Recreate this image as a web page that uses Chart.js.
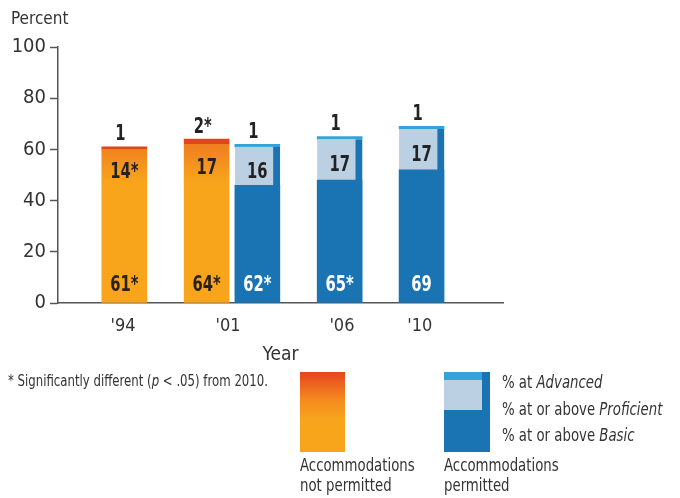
<!DOCTYPE html>
<html>
<head>
<meta charset="utf-8">
<script src="https://cdn.jsdelivr.net/npm/chart.js@4/dist/chart.umd.min.js"></script>
<style>
  html, body { margin: 0; padding: 0; background: #fff; }
  #wrap { width: 680px; height: 498px; }
</style>
</head>
<body>
<div id="wrap"><canvas id="naep"></canvas></div>
<script>
  // bars, left to right
  const years = ["'94", "'01", "'01", "'06", "'10"];
  const permitted = [false, false, true, true, true];
  const atBasic = [61, 64, 62, 65, 69];
  const atProficient = [14, 17, 16, 17, 17];
  const atAdvanced = [1, 2, 1, 1, 1];
  // * = significantly different from 2010
  const sigBasic = [true, true, true, true, false];
  const sigProficient = [true, false, false, false, false];
  const sigAdvanced = [false, true, false, false, false];

  // x axis tick labels
  const tickLabels = ["'94", "'01", "'06", "'10"];
  const tickPos = [1.46, 3.82, 6.38, 8.13];
  const barPos = [1.49, 3.34, 4.48, 6.33, 8.17];

  const NARROW = '"DejaVu Sans Condensed", "Liberation Sans", sans-serif';
  const ORANGE = '#F8A51B';
  const BLUE = '#1A74B4';
  const LIGHTBLUE = '#BBD0E2';
  const CYAN = '#35A3DA';
  const RED = '#E2441E';

  function pts(group, fn) {
    const out = [];
    for (let i = 0; i < atBasic.length; i++) {
      if (permitted[i] === group) out.push({ x: barPos[i], y: fn(i) });
    }
    return out;
  }

  function orangeFade(ctx) {
    const chart = ctx.chart;
    if (!chart.chartArea) return ORANGE;
    const y = chart.scales.y;
    const g = chart.ctx.createLinearGradient(0, y.getPixelForValue(47), 0, y.getPixelForValue(64));
    g.addColorStop(0, ORANGE);
    g.addColorStop(1, '#EE7A22');
    return g;
  }

  // text squeezed sideways, the source uses a condensed face
  function narrowText(c, text, x, y, sx, align) {
    c.save();
    c.translate(x, y);
    c.scale(sx, 1);
    c.textAlign = align || 'left';
    c.fillText(text, 0, 0);
    c.restore();
    return c.measureText(text).width * sx;
  }

  const base = { stack: 'all', grouped: false, barThickness: 45, borderSkipped: false };

  const data = {
    datasets: [
      Object.assign({ label: 'basic-np', data: pts(false, i => atBasic[i] - atProficient[i]), backgroundColor: ORANGE }, base),
      Object.assign({ label: 'prof-np', data: pts(false, i => atProficient[i] - atAdvanced[i]), backgroundColor: orangeFade }, base),
      Object.assign({ label: 'adv-np', data: pts(false, i => atAdvanced[i]), backgroundColor: RED }, base),
      Object.assign({ label: 'basic-p', data: pts(true, i => atBasic[i] - atProficient[i]), backgroundColor: BLUE }, base),
      Object.assign({ label: 'prof-p', data: pts(true, i => atProficient[i] - atAdvanced[i]), backgroundColor: LIGHTBLUE,
        borderColor: BLUE, borderWidth: { top: 0, left: 0, bottom: 0, right: 7 } }, base),
      Object.assign({ label: 'adv-p', data: pts(true, i => atAdvanced[i]), backgroundColor: CYAN }, base),
    ]
  };

  // value labels, title, footnote and legend
  const extras = {
    id: 'extras',
    afterDatasetsDraw(chart) {
      const c = chart.ctx;
      const xs = chart.scales.x, ys = chart.scales.y;
      c.save();
      c.textBaseline = 'middle';
      c.font = 'bold 21px ' + NARROW;
      for (let i = 0; i < atBasic.length; i++) {
        const x = xs.getPixelForValue(barPos[i]);
        c.fillStyle = permitted[i] ? '#fff' : '#2a2118';
        narrowText(c, atBasic[i] + (sigBasic[i] ? '*' : ''), x, ys.getPixelForValue(7), 0.78, 'center');
        c.fillStyle = '#222';
        const mid = atBasic[i] - atProficient[i] / 2 - 3;
        narrowText(c, atProficient[i] + (sigProficient[i] ? '*' : ''), x, ys.getPixelForValue(mid), 0.78, 'center');
        narrowText(c, atAdvanced[i] + (sigAdvanced[i] ? '*' : ''), x - 4, ys.getPixelForValue(atBasic[i]) - 12, 0.78, 'center');
      }
      c.restore();
    },
    afterDraw(chart) {
      const c = chart.ctx;
      const sx = 0.87;
      c.save();
      c.fillStyle = '#333';
      c.textBaseline = 'middle';
      c.font = '17px ' + NARROW;
      c.fillText('Percent', 11, 20);

      // footnote with italic p
      let x = 8;
      const fy = 382;
      const parts = [['* Significantly different (', ''], ['p', 'italic '], [' < .05) from 2010.', '']];
      parts.forEach(([t, s]) => {
        c.font = s + '15px ' + NARROW;
        x += narrowText(c, t, x, fy, sx);
      });

      // legend swatches
      const og = c.createLinearGradient(0, 372, 0, 452);
      og.addColorStop(0, '#E6441E');
      og.addColorStop(0.35, '#F58A1F');
      og.addColorStop(0.6, ORANGE);
      og.addColorStop(1, ORANGE);
      c.fillStyle = og;
      c.fillRect(300, 372, 45, 80);

      c.fillStyle = BLUE;
      c.fillRect(444, 372, 46, 80);
      c.fillStyle = CYAN;
      c.fillRect(444, 372, 38, 8);
      c.fillStyle = LIGHTBLUE;
      c.fillRect(444, 380, 38, 30);

      c.fillStyle = '#333';
      c.font = '17px ' + NARROW;
      narrowText(c, 'Accommodations', 300, 467, sx);
      narrowText(c, 'not permitted', 300, 487, sx);
      narrowText(c, 'Accommodations', 444, 467, sx);
      narrowText(c, 'permitted', 444, 487, sx);

      const rows = [['% at ', 'Advanced', 384], ['% at or above ', 'Proficient', 411], ['% at or above ', 'Basic', 437]];
      rows.forEach(([a, b, y]) => {
        c.font = '17px ' + NARROW;
        const w = narrowText(c, a, 502, y, sx);
        c.font = 'italic 17px ' + NARROW;
        narrowText(c, b, 502 + w, y, sx);
      });
      c.restore();
    }
  };

  const config = {
    type: 'bar',
    data: data,
    options: {
      responsive: true,
      maintainAspectRatio: false,
      animation: false,
      layout: { padding: { top: 47, left: 8, right: 177, bottom: 132 } },
      plugins: { legend: { display: false }, tooltip: { enabled: false } },
      scales: {
        x: {
          type: 'linear',
          min: 0,
          max: 10,
          offset: false,
          grid: { display: false, offset: false },
          border: { display: true, color: '#555', width: 1.5 },
          afterBuildTicks: (s) => { s.ticks = tickPos.map(v => ({ value: v })); },
          afterFit: (s) => { s.height = 63; },
          ticks: {
            padding: 5,
            color: '#333',
            font: { family: NARROW, size: 18 },
            callback: (v, i) => tickLabels[i]
          },
          title: { display: true, text: 'Year', color: '#333', padding: 0, font: { family: NARROW, size: 19 } }
        },
        y: {
          stacked: true,
          min: 0,
          max: 100,
          afterFit: (s) => { s.width = 50; },
          grid: { drawOnChartArea: false, drawTicks: true, tickLength: 8, tickColor: '#555', tickWidth: 1.5 },
          border: { display: true, color: '#555', width: 1.5 },
          ticks: { stepSize: 20, padding: 4, color: '#333', font: { family: NARROW, size: 20 } }
        }
      }
    },
    plugins: [extras]
  };

  const naepChart = new Chart(document.getElementById('naep'), config);
</script>
</body>
</html>
